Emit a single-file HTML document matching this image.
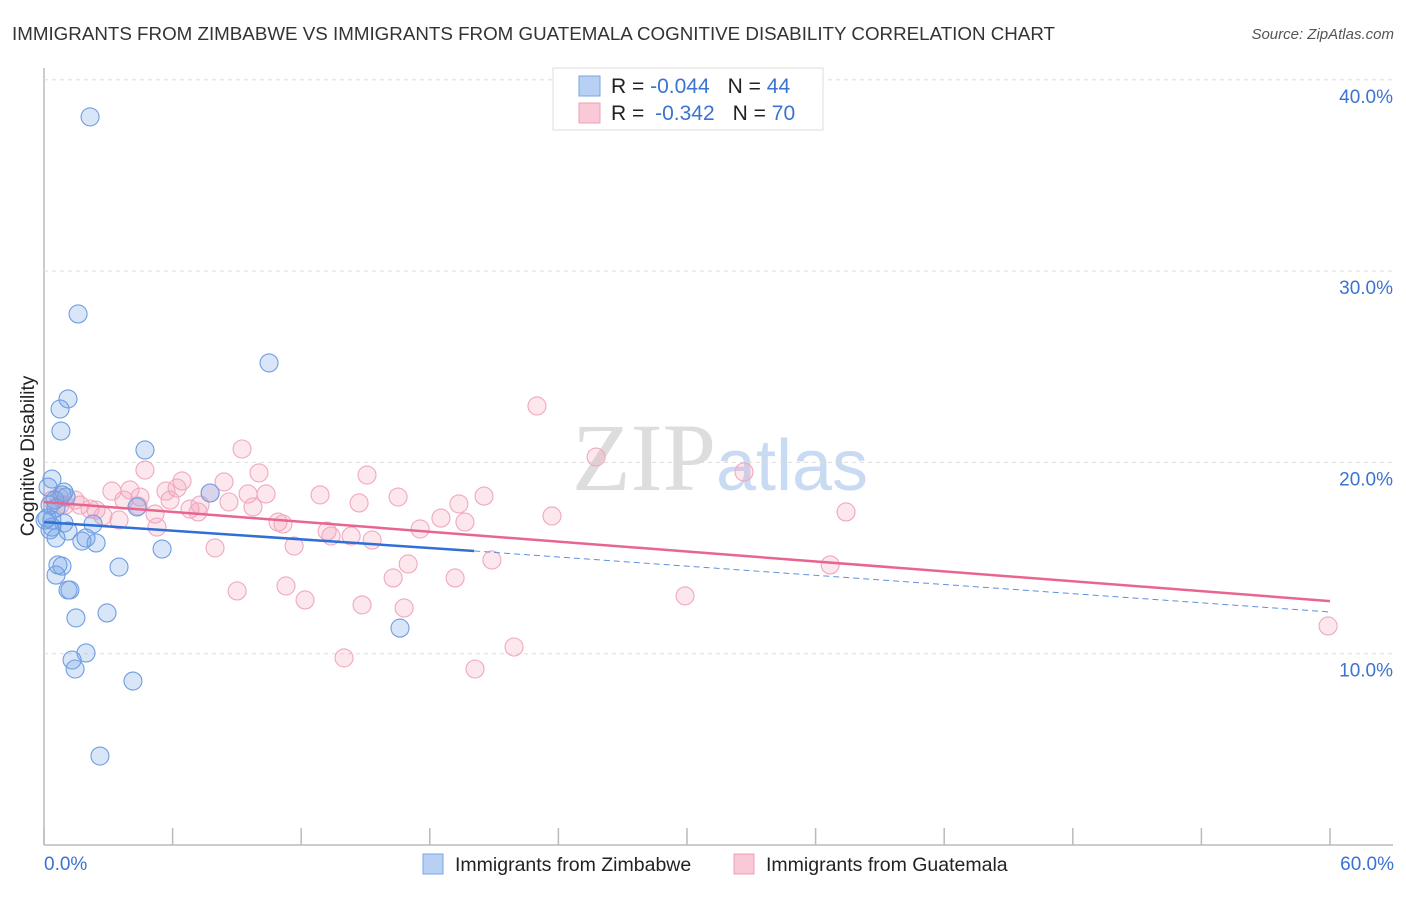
<!DOCTYPE html>
<html><head><meta charset="utf-8"><style>
body{margin:0;background:#fff;font-family:"Liberation Sans",sans-serif;}
</style></head><body>
<svg id="chart" width="1406" height="892" xmlns="http://www.w3.org/2000/svg" font-family="Liberation Sans, sans-serif">
<text x="12" y="40" font-size="18" fill="#333" textLength="1043" lengthAdjust="spacingAndGlyphs">IMMIGRANTS FROM ZIMBABWE VS IMMIGRANTS FROM GUATEMALA COGNITIVE DISABILITY CORRELATION CHART</text>
<text x="1394" y="39" font-size="15" fill="#555" text-anchor="end" font-style="italic">Source: ZipAtlas.com</text>
<text transform="translate(34,456) rotate(-90)" font-size="19" fill="#222" text-anchor="middle">Cognitive Disability</text>
<text x="720" y="490" font-size="96" text-anchor="middle" fill="#ddd" font-family="Liberation Serif, serif">ZIP<tspan fill="#c9dbf2" font-family="Liberation Sans, sans-serif" font-size="72">atlas</tspan></text>
<g id="grid"></g><g id="marks"></g>
<g>
<rect x="553" y="68" width="270" height="62" fill="#fff" stroke="#ddd"/>
<rect x="579" y="76" width="21" height="20" fill="#b7d0f3" stroke="#7aa6e6"/>
<rect x="579" y="103" width="21" height="20" fill="#f9c9d7" stroke="#eea0b8"/>
<text x="611" y="93" font-size="21" fill="#222">R = <tspan fill="#3b73d0">-0.044</tspan><tspan dx="18">N = </tspan><tspan fill="#3b73d0">44</tspan></text>
<text x="611" y="120" font-size="21" fill="#222">R = <tspan dx="5" fill="#3b73d0">-0.342</tspan><tspan dx="18">N = </tspan><tspan fill="#3b73d0">70</tspan></text>
</g>
<g>
<rect x="423" y="854" width="20" height="20" fill="#b7d0f3" stroke="#7aa6e6"/>
<text x="455" y="871" font-size="19.5" fill="#222">Immigrants from Zimbabwe</text>
<rect x="734" y="854" width="20" height="20" fill="#f9c9d7" stroke="#eea0b8"/>
<text x="766" y="871" font-size="19.5" fill="#222">Immigrants from Guatemala</text>
</g>
</svg>
<script>
const yTicks=[10,20,30,40];
const yTickLabels=["10.0%","20.0%","30.0%","40.0%"];
const xTicks=[0,6,12,18,24,30,36,42,48,54,60];
const zimX=[2.15,1.59,10.5,1.12,0.75,0.79,4.71,0.37,0.19,0.93,0.84,1.03,7.75,0.28,0.56,4.34,0.14,0.37,0.93,2.29,0.37,1.12,0.56,1.77,2.43,1.96,5.51,0.65,0.84,0.56,3.5,1.21,1.12,2.94,1.49,16.61,1.96,1.31,1.45,4.15,2.61,0.28,0.05,0.51];
const zimY=[38.06,27.76,25.2,23.32,22.79,21.64,20.65,19.13,18.71,18.45,18.3,18.19,18.4,17.77,17.62,17.67,17.09,16.99,16.83,16.78,16.62,16.41,16.05,15.89,15.79,16.05,15.47,14.64,14.58,14.11,14.53,13.33,13.33,12.13,11.87,11.34,10.04,9.67,9.2,8.57,4.65,16.47,16.99,18.03];
const guaX=[23,9.24,25.76,4.71,15.07,10.03,32.66,6.44,8.4,6.21,5.69,3.17,4.01,12.88,16.52,20.53,10.36,9.52,7.75,0.7,1.45,3.73,1.68,2.43,4.39,14.7,19.36,8.63,9.75,6.81,7.19,37.42,23.7,18.52,19.64,3.5,5.18,10.92,11.15,13.21,13.39,14.33,15.31,17.55,2.75,5.27,0.37,0.75,7.98,11.67,20.9,16.99,36.68,16.29,19.18,11.29,9.01,12.18,14.84,16.8,29.91,59.91,21.93,14,20.11,0.98,7.28,5.88,4.48,2.15];
const guaY=[22.95,20.7,20.28,19.6,19.34,19.45,19.5,19.03,18.98,18.66,18.5,18.5,18.56,18.3,18.19,18.24,18.35,18.35,18.4,18.19,18.03,18.03,17.77,17.51,17.72,17.88,17.83,17.93,17.67,17.56,17.41,17.41,17.2,17.09,16.88,16.99,17.3,16.88,16.78,16.41,16.15,16.15,15.94,16.52,17.2,16.62,18.03,17.77,15.53,15.63,14.9,14.69,14.64,13.96,13.96,13.54,13.28,12.81,12.55,12.39,13.02,11.45,10.35,9.78,9.2,17.77,17.77,18.03,18.19,17.56];
const zimTrend=[0,16.88,20.07,15.37,60,12.18];
const guaTrend=[0,17.93,60,12.75];
const NS="http://www.w3.org/2000/svg";
const X=v=>44+v/60*1286, Y=v=>845-v*19.13;
function mk(t,a,p){const e=document.createElementNS(NS,t);for(const k in a)e.setAttribute(k,a[k]);p.appendChild(e);return e;}
const grid=document.getElementById('grid'),marks=document.getElementById('marks');
let ax=mk('line',{x1:44,y1:68,x2:44,y2:845,stroke:'#bbb','stroke-width':1.5},grid);


let bx=mk('line',{x1:44,y1:845,x2:1393,y2:845,stroke:'#bbb','stroke-width':1.5},grid);


yTicks.forEach((v,i)=>{
 const g=mk('line',{x1:44,y1:Y(v),x2:1393,y2:Y(v),stroke:'#ddd','stroke-dasharray':'4,4'},grid);
 
 
 const t=mk('text',{x:1393,y:Y(v)+23,'font-size':19,fill:'#3b73d0','text-anchor':'end'},grid);t.textContent=yTickLabels[i];
 
 
});
xTicks.forEach(v=>{
 const t=mk('line',{x1:X(v),y1:828,x2:X(v),y2:845,stroke:'#bbb','stroke-width':1.5},grid);
 
 
});
[[0,"0.0%","start",44],[60,"60.0%","end",1394]].forEach(d=>{
 const t=mk('text',{x:d[3],y:870,'font-size':19,fill:'#3b73d0','text-anchor':d[2]},grid);t.textContent=d[1];
 
 
});
guaX.forEach((v,i)=>{
 const c=mk('circle',{cx:X(v),cy:Y(guaY[i]),r:9,fill:'rgba(244,160,185,0.25)',stroke:'#f0a8c0','stroke-width':1.1},marks);
 
 
});
zimX.forEach((v,i)=>{
 const c=mk('circle',{cx:X(v),cy:Y(zimY[i]),r:9,fill:'rgba(120,165,230,0.28)',stroke:'#6f9de3','stroke-width':1.1},marks);
 
 
});
let l1=mk('line',{x1:X(zimTrend[0]),y1:Y(zimTrend[1]),x2:X(zimTrend[2]),y2:Y(zimTrend[3]),stroke:'#2f6fd6','stroke-width':2.5},marks);


let l2=mk('line',{x1:X(zimTrend[2]),y1:Y(zimTrend[3]),x2:X(zimTrend[4]),y2:Y(zimTrend[5]),stroke:'#5d90e0','stroke-width':1,'stroke-dasharray':'6,4'},marks);


let l3=mk('line',{x1:X(guaTrend[0]),y1:Y(guaTrend[1]),x2:X(guaTrend[2]),y2:Y(guaTrend[3]),stroke:'#e8658f','stroke-width':2.5},marks);


</script>
</body></html>
